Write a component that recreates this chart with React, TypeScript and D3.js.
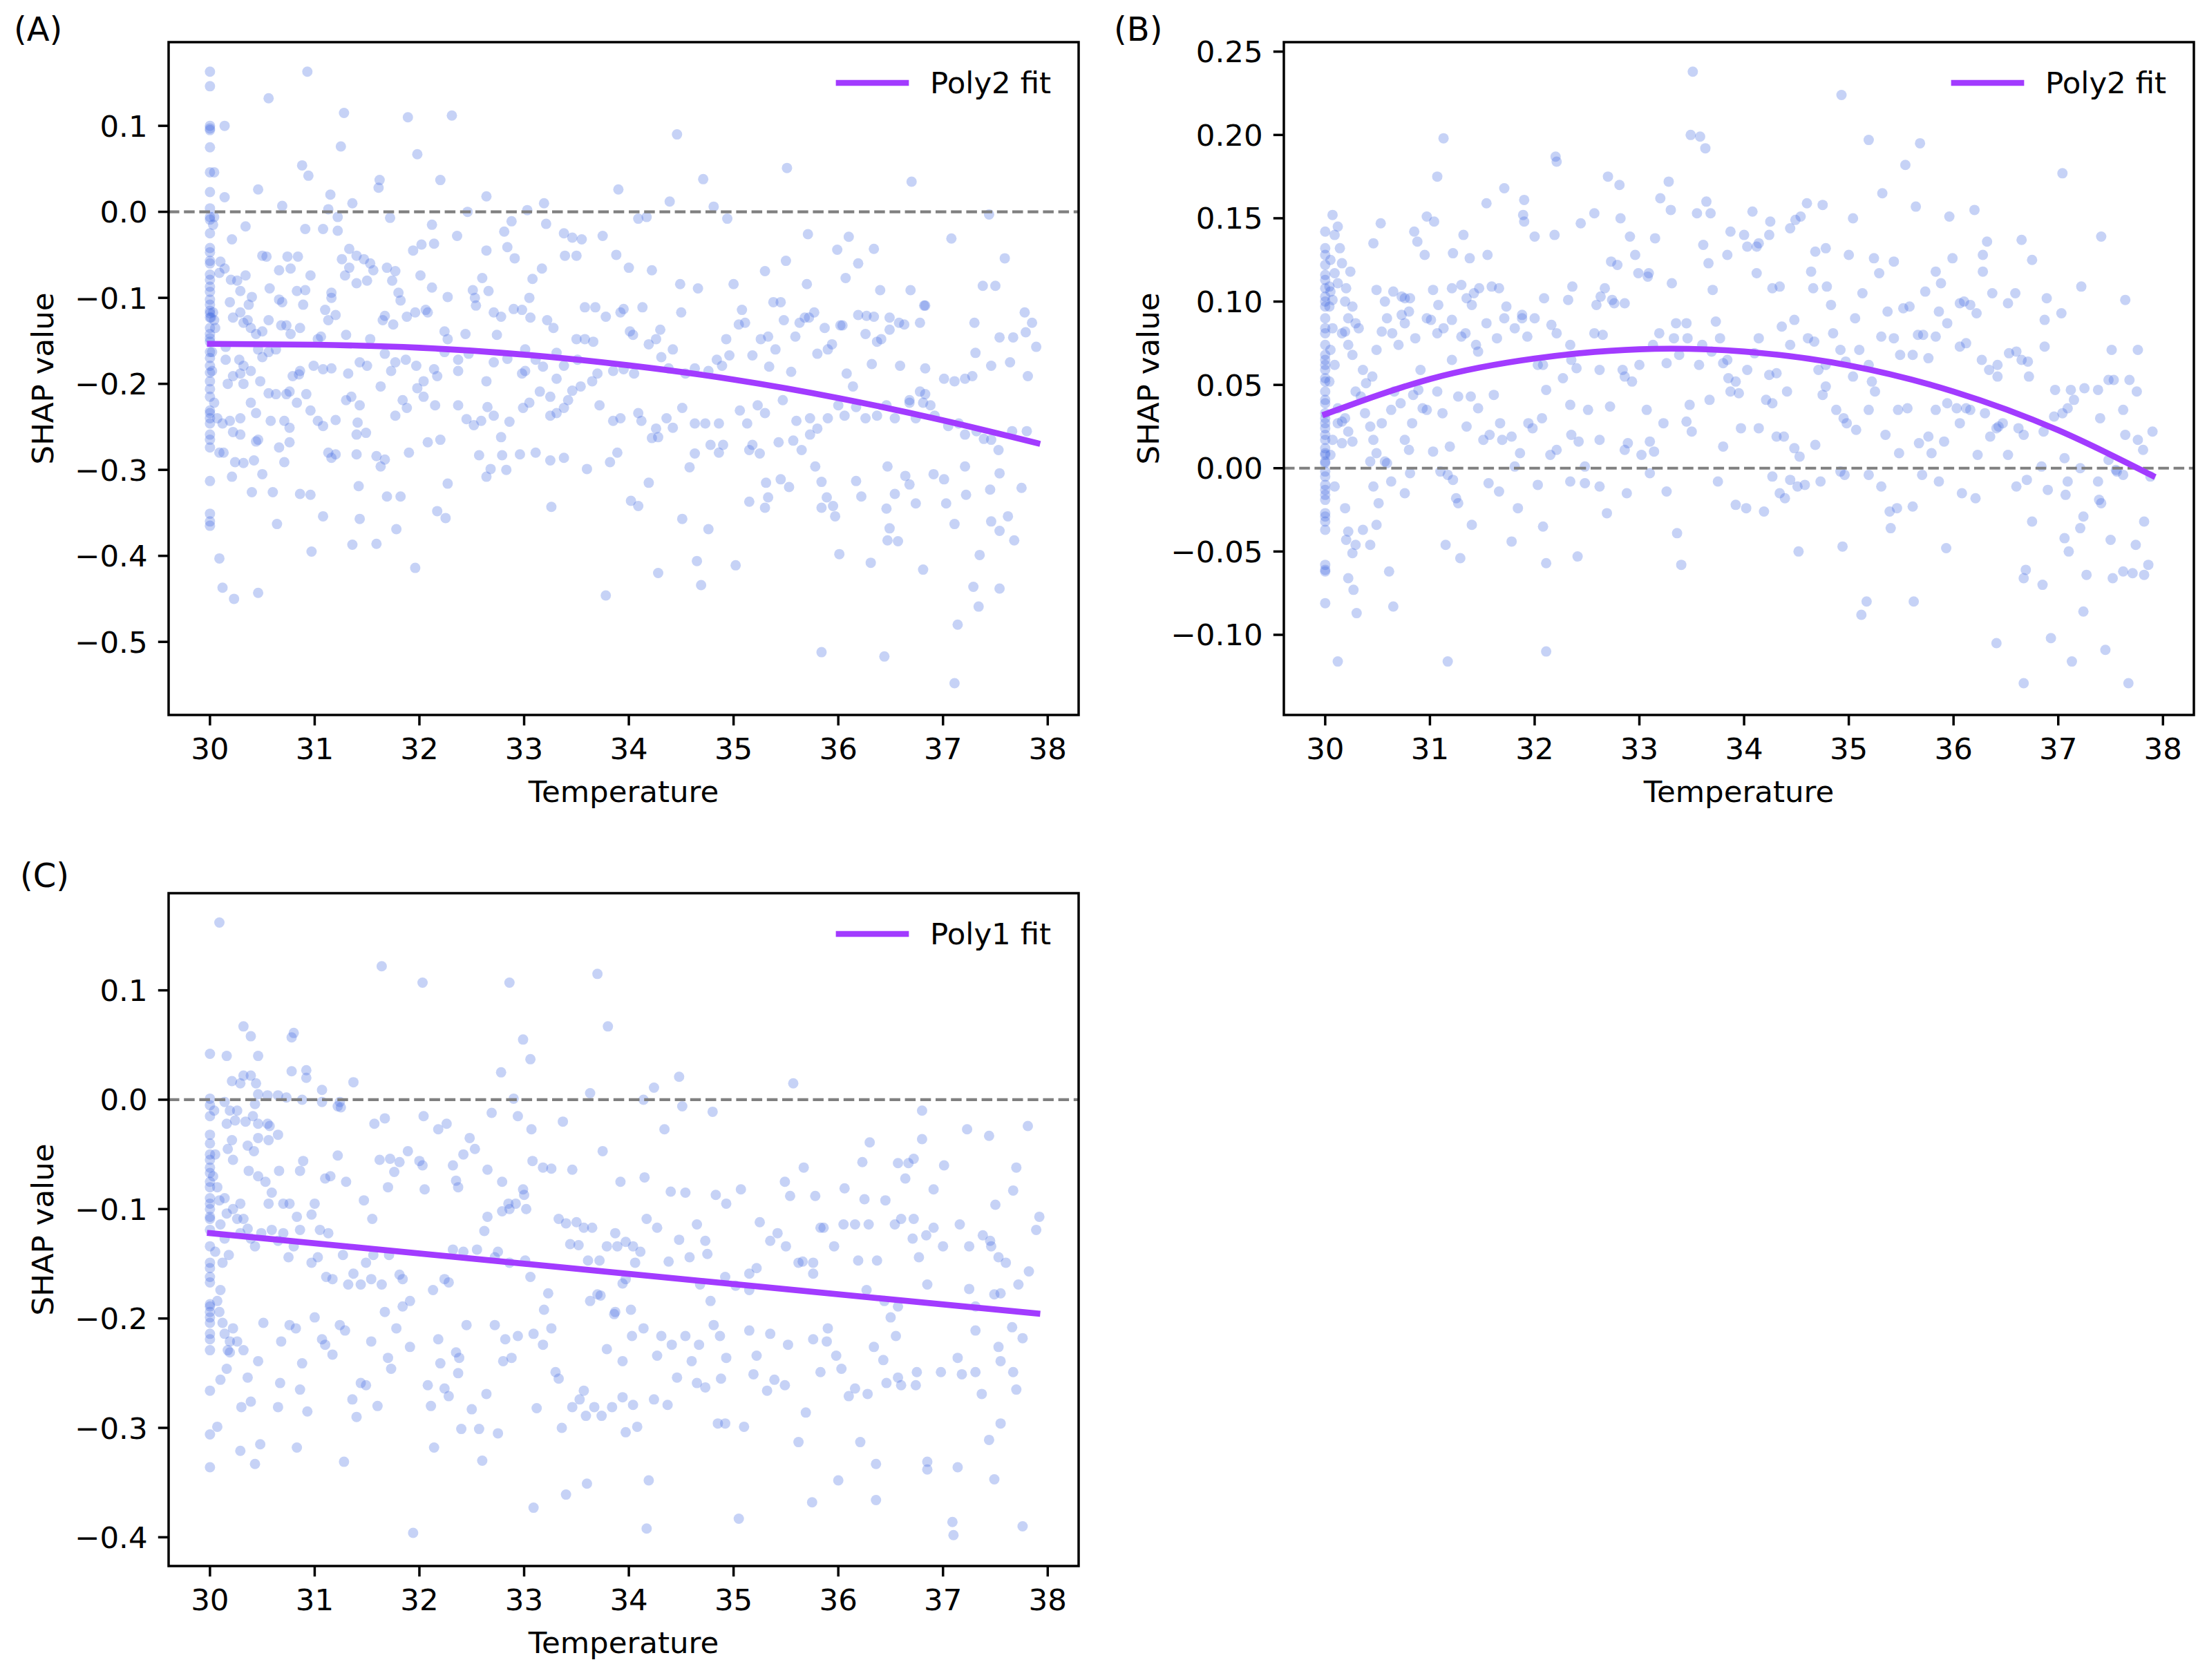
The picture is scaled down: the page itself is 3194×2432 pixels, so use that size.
import React from 'react';
import * as d3 from 'd3';

// ---------- tick / axis values ----------
const TEMP_TICKS = [30, 31, 32, 33, 34, 35, 36, 37, 38];
const X_LIM: [number, number] = [29.605, 38.295];
const A_TICKS = [0.1, 0.0, -0.1, -0.2, -0.3, -0.4, -0.5];
const B_TICKS = [0.25, 0.2, 0.15, 0.1, 0.05, 0.0, -0.05, -0.1];
const C_TICKS = [0.1, 0.0, -0.1, -0.2, -0.3, -0.4];
const A_YLIM: [number, number] = [-0.585, 0.1973];
const B_YLIM: [number, number] = [-0.1481, 0.2557];
const C_YLIM: [number, number] = [-0.4263, 0.1888];

// ---------- fitted curves (read at sample temperatures) ----------
const FIT_TEMPS = [30, 31, 32, 33, 34, 35, 36, 37, 37.9];
const A_FIT = [-0.1535, -0.1545, -0.158, -0.166, -0.1785, -0.195, -0.2165, -0.2425, -0.269];
const B_FIT = [0.0324, 0.0535, 0.0658, 0.0714, 0.07, 0.0617, 0.046, 0.0228, -0.0045];
const C_FIT_TEMPS = [30, 37.9];
const C_FIT = [-0.122, -0.1955];

// ---------- scatter: SHAP values at temperature 30 ----------
const A_AT30 = [0.163,0.146,0.1,0.097,0.095,0.075,0.046,0.023,0.004,-0.006,-0.009,-0.025,-0.042,-0.047,-0.057,-0.06,-0.073,-0.079,-0.087,-0.093,-0.102,-0.108,-0.115,-0.118,-0.123,-0.135,-0.142,-0.147,-0.151,-0.163,-0.17,-0.179,-0.187,-0.197,-0.206,-0.215,-0.231,-0.234,-0.24,-0.246,-0.259,-0.265,-0.274,-0.313,-0.351,-0.36,-0.365];
const B_AT30 = [0.142,0.132,0.128,0.122,0.116,0.113,0.108,0.103,0.1,0.097,0.09,0.084,0.081,0.074,0.068,0.065,0.062,0.059,0.054,0.052,0.046,0.041,0.039,0.033,0.03,0.027,0.024,0.02,0.017,0.012,0.009,0.008,0.004,0.003,-0.002,-0.005,-0.01,-0.013,-0.016,-0.019,-0.027,-0.029,-0.032,-0.037,-0.058,-0.061,-0.062,-0.081];
const C_AT30 = [0.042,0.001,-0.005,-0.015,-0.032,-0.04,-0.05,-0.055,-0.062,-0.067,-0.075,-0.08,-0.09,-0.095,-0.1,-0.107,-0.109,-0.119,-0.134,-0.149,-0.154,-0.162,-0.167,-0.187,-0.189,-0.194,-0.199,-0.204,-0.214,-0.219,-0.229,-0.266,-0.306,-0.336];

// ---------- scatter: [temperature, SHAP] ----------
const A_POINTS: [number, number][] = [
[30.93,0.163],[30.56,0.132],[31.28,0.115],[31.89,0.11],[32.31,0.112],[30.14,0.1],[31.25,0.076],[31.98,0.067],[34.46,0.09],[30.88,0.054],[30.94,0.042],[30.04,0.046],[31.62,0.037],[31.61,0.028],[32.2,0.037],[34.71,0.038],[35.51,0.051],[36.7,0.035],[30.46,0.026],[30.14,0.017],[31.15,0.02],[31.36,0.01],[30.69,0.007],[32.64,0.018],[33.9,0.026],[33.19,0.01],[34.39,0.012],[34.81,0.006],[33.03,0.002],[32.46,0.0],[31.13,0.003],[34.09,-0.008],[34.17,-0.006],[34.94,-0.008],[37.44,-0.003],[31.72,-0.007],[31.22,-0.006],
[30.04,-0.006],[30.03,-0.015],[30.21,-0.032],[30.34,-0.017],[30.91,-0.02],[31.08,-0.02],[31.22,-0.022],[32.12,-0.015],[32.88,-0.011],[32.81,-0.023],[33.21,-0.014],[32.02,-0.038],[32.14,-0.037],[32.36,-0.028],[31.94,-0.045],[32.64,-0.045],[32.84,-0.041],[32.91,-0.054],[33.38,-0.025],[33.46,-0.03],[33.55,-0.032],[33.75,-0.028],[33.88,-0.05],[33.39,-0.051],[33.5,-0.051],[34.0,-0.065],[34.22,-0.068],[35.71,-0.026],[36.1,-0.029],[35.99,-0.044],[36.34,-0.043],[36.19,-0.06],[36.07,-0.077],[35.5,-0.057],[37.08,-0.031],[37.59,-0.054],[37.38,-0.086],[30.5,-0.051],[30.54,-0.052],[30.74,-0.052],[30.84,-0.052],[30.1,-0.058],[30.14,-0.066],[30.09,-0.071],[31.26,-0.055],[31.33,-0.043],[31.4,-0.051],[31.47,-0.055],[31.53,-0.06],[31.56,-0.068],[31.33,-0.065],[31.29,-0.074],[31.4,-0.083],[31.5,-0.08],[31.69,-0.065],[31.77,-0.069],[31.74,-0.08],[30.66,-0.068],[30.77,-0.066],[30.96,-0.074],[30.2,-0.079],[30.26,-0.08],[30.34,-0.074],[30.57,-0.089],[30.29,-0.092],[35.3,-0.069],[35.0,-0.084],[34.49,-0.084],[34.66,-0.089],[35.7,-0.084],[36.4,-0.091],[36.69,-0.091],[36.82,-0.109],[37.5,-0.086],[33.05,-0.1],[33.17,-0.066],[33.08,-0.078],[32.6,-0.077],[32.51,-0.091],[32.66,-0.092],[32.12,-0.088],[32.27,-0.099],[32.53,-0.1],[32.01,-0.074],[31.16,-0.094],[31.16,-0.1],[31.8,-0.094],[31.82,-0.103],[30.91,-0.091],[30.83,-0.092],[30.4,-0.099],[30.66,-0.102],[30.69,-0.105],
[30.01,-0.123],[30.03,-0.117],[30.04,-0.126],[30.05,-0.135],[30.02,-0.163],[30.02,-0.185],[30.22,-0.123],[30.19,-0.105],[30.29,-0.117],[30.37,-0.108],[30.36,-0.126],[30.32,-0.129],[30.39,-0.135],[30.44,-0.142],[30.5,-0.139],[30.56,-0.126],[30.68,-0.132],[30.73,-0.132],[30.77,-0.142],[30.86,-0.135],[30.89,-0.108],[31.03,-0.148],[31.06,-0.145],[31.13,-0.126],[31.2,-0.12],[31.1,-0.114],[31.3,-0.143],[31.53,-0.148],[31.67,-0.121],[31.65,-0.126],[31.75,-0.131],[31.88,-0.122],[31.96,-0.117],[32.06,-0.114],[32.08,-0.117],[32.27,-0.148],[32.24,-0.139],[32.44,-0.142],[32.54,-0.109],[32.71,-0.117],[32.78,-0.122],[32.74,-0.143],[32.9,-0.113],[32.98,-0.114],[33.06,-0.123],[33.22,-0.126],[33.28,-0.135],[33.58,-0.111],[33.68,-0.111],[33.58,-0.148],[33.5,-0.148],[33.66,-0.151],[33.78,-0.122],[33.92,-0.117],[33.95,-0.113],[34.01,-0.139],[34.13,-0.111],[34.04,-0.143],[34.19,-0.154],[34.26,-0.148],[34.3,-0.137],[34.42,-0.16],[34.5,-0.117],[34.93,-0.148],[35.05,-0.131],[35.08,-0.114],[35.11,-0.129],[35.18,-0.167],[35.26,-0.148],[35.33,-0.145],[35.38,-0.105],[35.48,-0.126],[35.59,-0.145],[35.63,-0.129],[35.68,-0.123],[35.4,-0.16],[35.94,-0.154],[35.9,-0.16],[36.04,-0.132],[36.19,-0.12],[36.27,-0.121],[36.34,-0.122],[36.37,-0.151],[36.49,-0.137],[36.78,-0.129],[36.83,-0.109],[37.3,-0.129],[37.31,-0.164],[37.54,-0.146],[37.67,-0.146],[37.78,-0.117],[37.85,-0.129],[37.89,-0.157],[37.79,-0.14],[37.64,-0.175],[37.46,-0.179],[36.59,-0.179],[36.83,-0.182],[36.32,-0.177],[36.08,-0.188],[36.14,-0.203],[35.8,-0.165],[35.55,-0.186],[35.34,-0.18],[34.84,-0.172],[34.89,-0.179],[34.96,-0.167],[34.76,-0.185],[34.63,-0.182],[34.54,-0.188],[34.38,-0.182],[34.31,-0.169],[33.85,-0.185],[33.95,-0.183],[34.05,-0.188],[33.7,-0.188],[33.65,-0.197],[33.31,-0.164],[33.38,-0.179],[33.51,-0.172],[33.18,-0.18],[33.31,-0.194],[33.11,-0.172],[33.01,-0.16],[33.01,-0.185],[32.98,-0.188],[32.84,-0.171],[32.71,-0.175],[32.64,-0.197],[32.47,-0.165],[32.37,-0.172],[32.37,-0.185],[32.24,-0.163],[32.14,-0.183],[32.17,-0.191],[32.04,-0.197],[31.97,-0.179],[31.87,-0.172],[31.77,-0.175],[31.67,-0.165],[31.73,-0.185],[31.5,-0.179],[31.43,-0.175],[31.32,-0.188],[31.16,-0.182],[31.08,-0.183],[30.99,-0.179],[30.86,-0.185],[30.79,-0.191],[30.85,-0.189],[30.63,-0.16],[30.56,-0.163],[30.5,-0.169],[30.46,-0.16],[30.32,-0.179],[30.29,-0.188],[30.39,-0.185],[30.28,-0.172],[30.15,-0.172],[30.15,-0.157],[30.22,-0.191],[30.17,-0.2],[30.32,-0.2],[30.48,-0.197],[30.56,-0.211],[30.63,-0.212],[30.73,-0.212],[30.76,-0.209],[37.28,-0.191],[37.21,-0.194],[37.11,-0.197],[37.01,-0.194],[36.83,-0.212],[36.68,-0.219],[36.78,-0.209],[37.81,-0.191],[35.45,-0.105],[35.72,-0.123],[35.77,-0.117],[35.87,-0.135],[36.02,-0.132],[36.26,-0.142],[36.49,-0.123],[36.41,-0.148],[36.58,-0.129],[36.63,-0.131],
[30.04,-0.222],[30.07,-0.24],[30.12,-0.246],[30.19,-0.243],[30.29,-0.24],[30.39,-0.222],[30.44,-0.234],[30.58,-0.243],[30.71,-0.243],[30.76,-0.251],[30.83,-0.222],[30.92,-0.212],[30.96,-0.231],[31.03,-0.243],[31.08,-0.249],[31.2,-0.242],[31.3,-0.219],[31.35,-0.215],[31.43,-0.225],[31.41,-0.245],[31.4,-0.259],[31.49,-0.257],[31.63,-0.203],[31.77,-0.237],[31.84,-0.219],[31.88,-0.228],[31.98,-0.205],[32.04,-0.215],[32.15,-0.225],[32.2,-0.265],[32.08,-0.268],[32.37,-0.225],[32.45,-0.241],[32.52,-0.248],[32.59,-0.243],[32.65,-0.227],[32.71,-0.237],[32.78,-0.262],[32.86,-0.244],[32.99,-0.228],[33.05,-0.222],[33.15,-0.209],[33.25,-0.215],[33.42,-0.219],[33.38,-0.228],[33.46,-0.208],[33.25,-0.237],[33.31,-0.234],[33.54,-0.203],[33.72,-0.225],[33.85,-0.243],[33.92,-0.24],[34.09,-0.234],[34.12,-0.243],[34.26,-0.252],[34.36,-0.24],[34.42,-0.251],[34.51,-0.228],[34.63,-0.246],[34.73,-0.246],[34.86,-0.246],[35.06,-0.231],[35.13,-0.246],[35.23,-0.225],[35.3,-0.234],[35.47,-0.219],[35.6,-0.243],[35.73,-0.24],[35.8,-0.252],[35.9,-0.24],[36.0,-0.225],[36.06,-0.237],[36.17,-0.227],[36.26,-0.24],[36.37,-0.237],[36.46,-0.225],[36.54,-0.24],[36.68,-0.222],[36.74,-0.24],[36.81,-0.222],[36.88,-0.225],[36.92,-0.237],[37.05,-0.249],[37.15,-0.246],[37.21,-0.259],[37.32,-0.255],[37.39,-0.264],[37.46,-0.265],[37.53,-0.277],[37.66,-0.255],[37.8,-0.255],[35.73,-0.259],[35.65,-0.277],[35.57,-0.266],[35.43,-0.268],[35.25,-0.281],[35.18,-0.271],[35.15,-0.277],[34.9,-0.271],[34.86,-0.28],[34.78,-0.271],[34.63,-0.281],[34.58,-0.297],[34.22,-0.263],[34.28,-0.262],[33.89,-0.28],[33.82,-0.291],[33.6,-0.299],[33.38,-0.286],[33.25,-0.289],[33.11,-0.28],[32.96,-0.282],[32.79,-0.283],[32.83,-0.3],[32.68,-0.299],[32.57,-0.283],[32.64,-0.308],[31.9,-0.28],[31.67,-0.288],[31.63,-0.296],[31.59,-0.284],[31.4,-0.282],[31.2,-0.282],[31.16,-0.286],[31.13,-0.28],[30.71,-0.291],[30.42,-0.289],[30.32,-0.292],[30.24,-0.291],[30.13,-0.28],[30.09,-0.28],[30.46,-0.265],[30.44,-0.267],[30.29,-0.259],[30.22,-0.256],[30.76,-0.268],[30.66,-0.274],
[30.21,-0.308],[30.5,-0.305],[30.4,-0.326],[30.6,-0.326],[30.64,-0.363],[30.86,-0.328],[30.96,-0.329],[31.08,-0.354],[31.42,-0.319],[31.43,-0.357],[31.36,-0.387],[31.59,-0.386],[31.69,-0.331],[31.82,-0.331],[31.78,-0.369],[31.96,-0.414],[30.97,-0.395],[30.09,-0.403],[30.12,-0.437],[30.23,-0.45],[30.46,-0.443],[32.17,-0.348],[32.25,-0.356],[32.27,-0.316],[33.26,-0.343],[34.02,-0.336],[34.09,-0.342],[34.19,-0.315],[34.28,-0.42],[34.51,-0.357],[34.65,-0.406],[34.69,-0.434],[34.76,-0.369],[35.02,-0.411],[33.78,-0.446],[35.15,-0.337],[35.3,-0.344],[35.33,-0.332],[35.31,-0.315],[35.45,-0.311],[35.53,-0.32],[35.78,-0.296],[35.84,-0.314],[35.84,-0.344],[35.89,-0.332],[35.95,-0.342],[35.97,-0.354],[36.01,-0.398],[35.84,-0.512],[36.17,-0.313],[36.22,-0.331],[36.31,-0.408],[36.47,-0.296],[36.46,-0.345],[36.49,-0.368],[36.47,-0.382],[36.57,-0.383],[36.54,-0.328],[36.64,-0.307],[36.68,-0.317],[36.74,-0.339],[36.81,-0.416],[36.44,-0.517],[36.91,-0.305],[37.01,-0.311],[37.03,-0.339],[37.11,-0.363],[37.22,-0.329],[37.21,-0.296],[37.11,-0.548],[37.14,-0.48],[37.29,-0.436],[37.34,-0.459],[37.35,-0.399],[37.46,-0.36],[37.45,-0.323],[37.54,-0.304],[37.54,-0.371],[37.62,-0.354],[37.54,-0.438],[37.68,-0.382],[37.75,-0.321],
];

const B_POINTS: [number, number][] = [
[30.07,0.152],[30.12,0.145],[30.09,0.14],[30.14,0.132],[30.05,0.125],[30.16,0.123],[30.24,0.118],[30.09,0.117],[30.04,0.109],[30.12,0.111],[30.05,0.106],[30.2,0.108],[30.07,0.101],[30.19,0.1],[30.04,0.097],[30.07,0.084],[30.16,0.081],[30.22,0.09],[30.05,0.071],[30.09,0.062],[30.04,0.052],[30.12,0.027],[30.16,0.028],[30.12,0.036],[30.07,0.017],[30.16,0.015],[30.05,0.008],[30.09,-0.011],[30.12,-0.116],[30.19,-0.024],[30.22,-0.038],[30.2,-0.043],[30.26,-0.051],[30.29,-0.046],[30.22,-0.066],[30.27,-0.073],[30.3,-0.087],[30.36,-0.037],[30.43,-0.046],[30.49,-0.034],[30.61,-0.062],[30.65,-0.083],
[31.13,0.198],[31.07,0.175],[30.97,0.151],[31.04,0.148],[30.85,0.142],[30.88,0.136],[30.46,0.135],[30.53,0.147],[30.95,0.128],[31.22,0.129],[31.32,0.14],[31.38,0.126],[31.55,0.128],[31.54,0.159],[31.71,0.168],[31.9,0.161],[31.89,0.152],[31.9,0.148],[32.0,0.139],[32.19,0.14],[32.2,0.187],[32.21,0.184],[32.44,0.147],[32.57,0.153],[32.7,0.175],[32.81,0.17],[32.82,0.15],[32.91,0.139],[32.96,0.128],[32.73,0.124],[32.79,0.122],[32.99,0.117],[33.08,0.115],[33.15,0.138],[33.2,0.162],[33.28,0.172],[33.3,0.155],[33.31,0.111],[33.51,0.238],[33.49,0.2],[33.58,0.199],[33.63,0.192],[33.55,0.153],[33.64,0.16],[33.68,0.153],[33.61,0.134],[33.66,0.123],[33.7,0.107],[33.87,0.142],[33.84,0.128],[34.0,0.14],[34.03,0.133],[34.08,0.154],[34.12,0.133],[34.14,0.135],[34.24,0.14],[34.25,0.148],[34.12,0.117],[34.27,0.108],[34.34,0.109],[34.44,0.144],[34.49,0.149],[34.54,0.151],[34.6,0.159],[34.75,0.158],[34.68,0.13],[34.78,0.132],[34.64,0.118],[34.66,0.108],[34.79,0.109],[34.83,0.098],[34.93,0.224],[35.04,0.15],[35.0,0.128],[35.13,0.105],[35.19,0.197],[35.24,0.126],[35.29,0.117],[35.32,0.165],[35.43,0.124],[35.54,0.182],[35.64,0.157],[35.68,0.195],[35.73,0.106],[35.83,0.118],[35.88,0.111],[35.96,0.151],[35.99,0.126],[36.2,0.155],[36.28,0.128],[36.28,0.118],[36.32,0.136],[36.65,0.137],[36.75,0.125],[37.04,0.177],[37.22,0.109],[37.41,0.139],[37.64,0.101],[36.37,0.105],[36.59,0.105],[36.52,0.099],[36.1,0.1],[36.16,0.098],[36.06,0.099],[36.89,0.102],[37.03,0.093],[36.87,0.089],[30.49,0.107],[30.65,0.106],[30.73,0.103],[30.76,0.102],[30.81,0.102],[30.57,0.1],[31.03,0.107],[31.08,0.098],[31.21,0.108],[31.3,0.11],[31.35,0.102],[31.42,0.105],[31.47,0.108],[31.59,0.109],[31.66,0.108],[31.73,0.097],[31.88,0.092],[32.09,0.102],[32.32,0.101],[32.36,0.109],[32.59,0.098],[32.63,0.103],[32.67,0.108],[32.76,0.099],[32.86,0.099],[33.09,0.117],
[30.26,0.097],[30.29,0.087],[30.32,0.084],[30.19,0.082],[30.22,0.074],[30.26,0.068],[30.36,0.059],[30.39,0.051],[30.45,0.055],[30.49,0.071],[30.54,0.082],[30.59,0.09],[30.64,0.081],[30.7,0.074],[30.76,0.087],[30.8,0.094],[30.73,0.092],[30.86,0.078],[30.91,0.059],[30.97,0.09],[31.01,0.089],[31.07,0.081],[31.13,0.084],[31.21,0.089],[31.21,0.065],[31.3,0.079],[31.34,0.081],[31.4,0.098],[31.44,0.074],[31.46,0.07],[31.54,0.087],[31.64,0.078],[31.71,0.09],[31.81,0.084],[31.88,0.09],[31.93,0.079],[32.0,0.09],[32.03,0.062],[32.08,0.062],[32.16,0.086],[32.21,0.081],[32.34,0.074],[32.35,0.065],[32.4,0.06],[32.57,0.081],[32.65,0.08],[32.62,0.059],[32.74,0.101],[32.84,0.059],[32.86,0.055],[32.93,0.052],[33.0,0.062],[33.13,0.074],[33.19,0.081],[33.26,0.063],[33.35,0.087],[33.45,0.087],[33.46,0.078],[33.33,0.078],[33.38,0.068],[33.57,0.062],[33.6,0.074],[33.69,0.07],[33.73,0.088],[33.77,0.078],[33.8,0.063],[33.84,0.065],[33.85,0.054],[33.92,0.052],[34.03,0.059],[34.1,0.069],[34.14,0.078],[34.24,0.056],[34.31,0.057],[34.36,0.085],[34.48,0.089],[34.44,0.074],[34.61,0.078],[34.67,0.076],[34.71,0.059],[34.78,0.062],[34.85,0.081],[34.92,0.071],[34.97,0.064],[35.04,0.055],[35.06,0.09],[35.1,0.071],[35.19,0.062],[35.22,0.052],[35.31,0.079],[35.37,0.094],[35.43,0.078],[35.49,0.068],[35.52,0.096],[35.58,0.097],[35.61,0.068],[35.66,0.08],[35.71,0.08],[35.76,0.066],[35.83,0.079],[35.86,0.094],[35.94,0.087],[36.06,0.073],[36.12,0.075],[36.22,0.093],[36.27,0.065],[36.34,0.059],[36.42,0.062],[36.42,0.055],[36.53,0.069],[36.6,0.07],[36.65,0.065],[36.71,0.064],[36.87,0.073],[36.72,0.055],[36.97,0.047],[37.12,0.047],[37.25,0.048],[37.38,0.047],[37.48,0.053],[37.53,0.053],[37.51,0.071],[37.76,0.071],[37.68,0.053],[37.75,0.046],
[30.19,0.03],[30.22,0.022],[30.26,0.016],[30.29,0.046],[30.34,0.043],[30.38,0.033],[30.43,0.025],[30.46,0.017],[30.49,0.009],[30.43,0.004],[30.54,0.027],[30.57,0.004],[30.59,0.003],[30.63,0.035],[30.66,0.046],[30.72,0.039],[30.76,0.017],[30.8,0.011],[30.83,0.027],[30.84,0.044],[30.89,0.047],[30.93,0.036],[30.97,0.035],[31.03,0.01],[31.07,0.046],[31.12,0.033],[31.19,0.013],[31.27,0.043],[31.35,0.025],[31.39,0.043],[31.46,0.036],[31.51,0.017],[31.57,0.02],[31.61,0.044],[31.67,0.027],[31.69,0.017],[31.78,0.019],[31.81,0.001],[31.86,0.009],[31.94,0.027],[31.98,0.024],[32.07,0.03],[32.11,0.047],[32.15,0.008],[32.21,0.011],[32.27,0.054],[32.34,0.038],[32.35,0.02],[32.42,0.016],[32.48,0.001],[32.51,0.035],[32.62,0.017],[32.72,0.037],[32.86,0.011],[32.89,0.015],[33.02,0.008],[33.07,0.035],[33.1,0.016],[33.14,0.01],[33.23,0.027],[33.45,0.028],[33.48,0.038],[33.5,0.022],[33.67,0.041],[33.8,0.013],[33.87,0.046],[33.95,0.045],[33.97,0.024],[34.14,0.024],[34.21,0.041],[34.27,0.039],[34.31,0.019],[34.38,0.019],[34.41,0.046],[34.48,0.012],[34.53,0.007],[34.68,0.014],[34.75,0.044],[34.78,0.049],[34.88,0.035],[34.95,0.03],[34.98,0.027],[35.07,0.023],[35.19,0.035],[35.25,0.046],[35.35,0.02],[35.47,0.035],[35.48,0.009],[35.56,0.036],[35.67,0.015],[35.76,0.019],[35.79,0.009],[35.83,0.035],[35.91,0.016],[35.94,0.039],[36.03,0.036],[36.06,0.027],[36.12,0.036],[36.16,0.035],[36.23,0.008],[36.3,0.033],[36.35,0.019],[36.41,0.024],[36.43,0.025],[36.47,0.027],[36.52,0.008],[36.62,0.024],[36.67,0.02],[36.86,0.022],[36.84,0.001],[36.96,0.031],[37.04,0.033],[37.06,0.006],[37.09,0.036],[37.15,0.041],[37.21,0.0],[37.4,0.03],[37.48,0.005],[37.56,-0.002],[37.62,0.035],[37.64,0.02],[37.76,0.017],[37.81,0.011],[37.9,0.022],
[30.46,-0.011],[30.51,-0.021],[30.63,-0.008],[30.76,-0.015],[30.81,-0.003],[31.1,-0.002],[31.17,-0.004],[31.22,-0.007],[31.25,-0.018],[31.27,-0.021],[31.15,-0.046],[31.29,-0.054],[31.4,-0.034],[31.17,-0.116],[31.56,-0.009],[31.66,-0.014],[31.78,-0.044],[31.84,-0.024],[32.03,-0.01],[32.08,-0.035],[32.11,-0.057],[32.11,-0.11],[32.34,-0.008],[32.41,-0.053],[32.48,-0.009],[32.62,-0.011],[32.69,-0.027],[32.88,-0.015],[33.1,-0.003],[33.26,-0.014],[33.36,-0.039],[33.4,-0.058],[33.75,-0.008],[33.92,-0.022],[34.02,-0.024],[34.19,-0.026],[34.27,-0.005],[34.34,-0.015],[34.39,-0.018],[34.44,-0.007],[34.51,-0.011],[34.58,-0.01],[34.73,-0.008],[34.92,-0.002],[34.96,-0.004],[34.94,-0.047],[34.52,-0.05],[35.17,-0.08],[35.12,-0.088],[35.19,-0.004],[35.31,-0.011],[35.39,-0.026],[35.4,-0.036],[35.46,-0.024],[35.61,-0.023],[35.62,-0.08],[35.7,-0.004],[35.86,-0.008],[35.93,-0.048],[36.08,-0.015],[36.21,-0.018],[36.41,-0.105],[36.6,-0.011],[36.69,-0.061],[36.67,-0.066],[36.7,-0.007],[36.75,-0.032],[36.85,-0.07],[36.9,-0.013],[36.93,-0.102],[36.67,-0.129],[37.06,-0.042],[37.09,-0.008],[37.07,-0.016],[37.1,-0.05],[37.13,-0.116],[37.21,-0.036],[37.24,-0.029],[37.24,-0.086],[37.27,-0.064],[37.38,-0.008],[37.39,-0.019],[37.41,-0.021],[37.45,-0.109],[37.5,-0.043],[37.52,-0.066],[37.62,-0.062],[37.67,-0.129],[37.71,-0.063],[37.74,-0.046],[37.82,-0.032],[37.82,-0.064],[37.86,-0.058],[37.55,-0.001],[37.62,-0.004],[37.88,-0.005],
];

const C_POINTS: [number, number][] = [
[30.09,0.162],[30.04,-0.01],[30.05,-0.05],[30.03,-0.07],[30.09,-0.092],[30.1,-0.114],[30.14,-0.002],[30.16,-0.022],[30.19,-0.01],[30.17,-0.045],[30.21,-0.037],[30.22,-0.055],[30.07,-0.08],[30.14,-0.09],[30.16,-0.104],[30.05,-0.139],[30.12,-0.149],[30.1,-0.174],[30.07,-0.184],[30.14,-0.214],[30.17,-0.229],[30.07,-0.299],[30.16,0.04],[30.21,0.017],[30.26,-0.01],[30.24,-0.019],[30.14,-0.127],[30.18,-0.142],[30.09,-0.194],[30.12,-0.204],[30.19,-0.221],[30.16,-0.246],[30.1,-0.256],[30.19,-0.231],
[30.32,0.067],[30.39,0.058],[30.46,0.04],[30.78,0.057],[30.8,0.061],[30.78,0.026],[30.92,0.027],[30.92,0.02],[31.07,0.009],[31.37,0.016],[31.64,0.122],[32.03,0.107],[32.86,0.107],[32.78,0.025],[32.99,0.055],[33.06,0.037],[33.7,0.115],[33.8,0.067],[33.63,0.006],[34.14,0.0],[34.24,0.011],[34.48,0.021],[35.57,0.015],[32.9,0.001],[31.24,-0.002],[31.07,-0.002],[30.46,0.005],[30.55,0.004],[30.65,0.004],[30.73,0.002],[30.39,0.022],[30.44,0.015],[30.32,0.022],[30.29,0.015],[30.43,-0.004],[30.88,0.0],
[30.34,-0.02],[30.41,-0.015],[30.46,-0.022],[30.55,-0.022],[30.57,-0.024],[30.46,-0.035],[30.56,-0.037],[30.65,-0.032],[30.36,-0.042],[30.42,-0.047],[30.37,-0.065],[30.46,-0.07],[30.53,-0.075],[30.59,-0.085],[30.66,-0.065],[30.7,-0.095],[30.76,-0.095],[30.86,-0.065],[30.89,-0.056],[31.0,-0.095],[31.1,-0.072],[31.15,-0.07],[31.22,-0.051],[31.3,-0.075],[31.22,-0.006],[31.25,-0.007],[31.47,-0.092],[31.55,-0.109],[31.57,-0.022],[31.67,-0.017],[31.62,-0.055],[31.72,-0.054],[31.76,-0.066],[31.7,-0.08],[31.81,-0.057],[31.89,-0.047],[32.0,-0.056],[32.03,-0.06],[32.04,-0.015],[32.18,-0.027],[32.26,-0.022],[32.05,-0.082],[32.32,-0.06],[32.35,-0.074],[32.37,-0.08],[32.42,-0.05],[32.48,-0.035],[32.53,-0.045],[32.65,-0.064],[32.69,-0.012],[32.79,-0.075],[32.94,-0.015],[33.07,-0.027],[33.08,-0.056],[33.18,-0.062],[33.26,-0.063],[33.46,-0.064],[32.99,-0.082],[32.85,-0.095],[33.0,-0.087],[33.37,-0.02],[33.75,-0.047],[33.92,-0.075],[34.15,-0.071],[34.34,-0.027],[34.51,-0.006],[34.8,-0.011],[34.4,-0.084],[34.54,-0.085],[34.83,-0.087],[35.07,-0.082],[34.93,-0.095],[35.49,-0.075],[35.54,-0.088],[35.67,-0.062],[35.78,-0.088],[36.06,-0.081],[36.23,-0.057],[36.3,-0.039],[36.45,-0.092],[36.57,-0.058],[36.64,-0.072],[36.67,-0.058],[36.72,-0.054],[36.8,-0.01],[36.8,-0.036],[36.91,-0.082],[37.01,-0.06],[37.23,-0.027],[37.44,-0.033],[37.5,-0.096],[37.7,-0.062],[37.67,-0.083],[37.81,-0.024],[36.25,-0.091],
[30.22,-0.1],[30.29,-0.095],[30.26,-0.109],[30.32,-0.109],[30.36,-0.118],[30.29,-0.122],[30.39,-0.127],[30.43,-0.134],[30.49,-0.122],[30.56,-0.095],[30.59,-0.119],[30.65,-0.129],[30.7,-0.122],[30.75,-0.144],[30.8,-0.134],[30.83,-0.107],[30.86,-0.119],[30.97,-0.105],[31.05,-0.119],[31.13,-0.122],[30.97,-0.149],[31.03,-0.144],[31.11,-0.162],[31.17,-0.164],[31.27,-0.142],[31.32,-0.169],[31.37,-0.159],[31.44,-0.169],[31.49,-0.149],[31.56,-0.142],[31.54,-0.164],[31.64,-0.169],[31.71,-0.142],[31.81,-0.16],[31.84,-0.164],[31.67,-0.194],[31.84,-0.189],[31.91,-0.184],[32.13,-0.174],[32.24,-0.164],[32.28,-0.167],[32.32,-0.137],[32.42,-0.139],[32.55,-0.137],[32.62,-0.12],[32.65,-0.107],[32.79,-0.102],[32.86,-0.1],[32.92,-0.095],[33.02,-0.1],[32.72,-0.144],[32.75,-0.139],[32.86,-0.149],[33.01,-0.147],[33.06,-0.162],[33.23,-0.177],[33.19,-0.192],[33.33,-0.109],[33.4,-0.113],[33.5,-0.112],[33.57,-0.117],[33.65,-0.117],[33.44,-0.132],[33.52,-0.133],[33.61,-0.147],[33.72,-0.147],[33.73,-0.179],[33.63,-0.184],[33.7,-0.178],[33.79,-0.134],[33.87,-0.122],[33.89,-0.134],[33.97,-0.13],[34.04,-0.134],[34.06,-0.149],[34.11,-0.139],[33.97,-0.164],[33.94,-0.168],[33.86,-0.196],[33.87,-0.194],[34.02,-0.192],[34.17,-0.109],[34.27,-0.117],[34.38,-0.148],[34.48,-0.128],[34.58,-0.144],[34.65,-0.114],[34.73,-0.129],[34.75,-0.141],[34.78,-0.184],[34.68,-0.169],[34.92,-0.162],[35.02,-0.17],[35.15,-0.174],[35.15,-0.159],[35.22,-0.154],[35.25,-0.112],[35.35,-0.129],[35.42,-0.122],[35.5,-0.134],[35.62,-0.149],[35.66,-0.148],[35.76,-0.149],[35.76,-0.159],[35.83,-0.117],[35.86,-0.117],[35.96,-0.134],[36.05,-0.114],[36.16,-0.114],[36.29,-0.114],[36.19,-0.147],[36.37,-0.147],[36.27,-0.174],[36.44,-0.184],[36.5,-0.199],[36.57,-0.189],[36.54,-0.114],[36.6,-0.109],[36.71,-0.127],[36.72,-0.109],[36.77,-0.144],[36.84,-0.124],[36.91,-0.117],[36.85,-0.169],[37.0,-0.134],[37.16,-0.114],[37.25,-0.134],[37.25,-0.173],[37.31,-0.189],[37.38,-0.124],[37.45,-0.129],[37.46,-0.134],[37.53,-0.144],[37.6,-0.149],[37.49,-0.178],[37.55,-0.177],[37.72,-0.169],[37.82,-0.157],[37.89,-0.119],[37.92,-0.107],[37.66,-0.208],[37.76,-0.218],
[30.22,-0.209],[30.26,-0.221],[30.32,-0.229],[30.36,-0.254],[30.39,-0.276],[30.46,-0.239],[30.3,-0.281],[30.29,-0.321],[30.43,-0.333],[30.48,-0.315],[30.51,-0.204],[30.65,-0.281],[30.67,-0.259],[30.68,-0.221],[30.76,-0.206],[30.82,-0.209],[30.83,-0.318],[30.86,-0.265],[30.88,-0.241],[30.93,-0.285],[31.0,-0.199],[31.07,-0.219],[31.1,-0.224],[31.17,-0.233],[31.24,-0.206],[31.29,-0.211],[31.28,-0.331],[31.36,-0.274],[31.4,-0.29],[31.44,-0.259],[31.49,-0.261],[31.54,-0.221],[31.6,-0.28],[31.7,-0.236],[31.73,-0.246],[31.78,-0.209],[31.91,-0.226],[31.94,-0.396],[32.08,-0.261],[32.11,-0.28],[32.14,-0.318],[32.18,-0.219],[32.2,-0.241],[32.24,-0.264],[32.28,-0.271],[32.35,-0.231],[32.38,-0.236],[32.37,-0.25],[32.4,-0.301],[32.45,-0.206],[32.5,-0.283],[32.57,-0.301],[32.6,-0.33],[32.64,-0.269],[32.72,-0.206],[32.75,-0.305],[32.82,-0.219],[32.8,-0.239],[32.88,-0.236],[32.94,-0.216],[33.09,-0.214],[33.09,-0.373],[33.12,-0.282],[33.18,-0.224],[33.26,-0.209],[33.3,-0.249],[33.33,-0.255],[33.36,-0.3],[33.4,-0.361],[33.46,-0.281],[33.53,-0.274],[33.57,-0.266],[33.59,-0.289],[33.6,-0.351],[33.67,-0.281],[33.74,-0.289],[33.79,-0.228],[33.84,-0.281],[33.94,-0.239],[33.94,-0.272],[33.97,-0.304],[34.03,-0.216],[34.04,-0.279],[34.08,-0.299],[34.14,-0.209],[34.19,-0.348],[34.17,-0.392],[34.24,-0.274],[34.27,-0.234],[34.31,-0.216],[34.37,-0.279],[34.41,-0.224],[34.46,-0.254],[34.54,-0.216],[34.6,-0.239],[34.67,-0.224],[34.65,-0.259],[34.73,-0.263],[34.81,-0.206],[34.87,-0.216],[34.88,-0.255],[34.93,-0.236],[34.85,-0.296],[34.92,-0.296],[35.05,-0.383],[35.1,-0.299],[35.15,-0.211],[35.19,-0.251],[35.22,-0.234],[35.32,-0.266],[35.35,-0.214],[35.39,-0.256],[35.49,-0.261],[35.52,-0.224],[35.62,-0.313],[35.69,-0.286],[35.75,-0.368],[35.76,-0.219],[35.83,-0.249],[35.89,-0.221],[35.9,-0.209],[35.98,-0.234],[36.03,-0.246],[36.0,-0.348],[36.1,-0.271],[36.16,-0.264],[36.21,-0.313],[36.28,-0.269],[36.34,-0.226],[36.36,-0.333],[36.36,-0.366],[36.43,-0.238],[36.46,-0.259],[36.55,-0.216],[36.57,-0.254],[36.6,-0.261],[36.74,-0.261],[36.75,-0.249],[36.85,-0.331],[36.85,-0.338],[36.98,-0.249],[37.09,-0.386],[37.1,-0.398],[37.14,-0.236],[37.14,-0.336],[37.18,-0.251],[37.31,-0.249],[37.31,-0.211],[37.37,-0.269],[37.44,-0.311],[37.49,-0.347],[37.53,-0.226],[37.55,-0.296],[37.55,-0.239],[37.67,-0.249],[37.7,-0.265],[37.76,-0.39],
];

// ---------- drawing ----------
const FONT = "'DejaVu Sans', 'Liberation Sans', sans-serif";
const FS = 43.5;
const PW = 1317;
const PH = 974;
const DOT = '#4169e1';
const FIT = '#a23bff';

type PanelProps = {
  left: number; top: number; tag: string; tagX: number; tagY: number; yLabelX: number;
  at30: number[]; pts: [number, number][]; yTicks: number[]; yLim: [number, number];
  digits: number; fitT: number[]; fitV: number[]; legend: string;
};

function Panel(p: PanelProps) {
  const x = d3.scaleLinear().domain(X_LIM).range([p.left, p.left + PW]);
  const y = d3.scaleLinear().domain(p.yLim).range([p.top + PH, p.top]);
  const fmt = d3.format(`.${p.digits}f`);
  const all: [number, number][] = [...p.at30.map((v) => [30, v] as [number, number]), ...p.pts];
  const pairs = p.fitT.map((t, i) => [t, p.fitV[i]] as [number, number]);
  const lineGen = d3.line<[number, number]>()
    .x((d) => x(d[0]))
    .y((d) => y(d[1]))
    .curve(pairs.length > 2 ? d3.curveNatural : d3.curveLinear);
  const right = p.left + PW;
  const bottom = p.top + PH;
  const TL = 15.2;
  const SW = 3.5;
  return (
    <g>
      <text x={p.tagX} y={p.tagY} fontSize={48} fontFamily={FONT}>{p.tag}</text>
      {all.map((d, i) => (
        <circle key={i} cx={x(d[0])} cy={y(d[1])} r={7.5} fill={DOT} fillOpacity={0.3} />
      ))}
      <line x1={p.left} x2={right} y1={y(0)} y2={y(0)} stroke="#808080" strokeWidth={4.2} strokeDasharray="15.5 6.7" />
      <path d={lineGen(pairs) || ''} fill="none" stroke={FIT} strokeWidth={8.7} strokeLinecap="square" strokeLinejoin="round" />
      <line x1={right - 347} x2={right - 250} y1={p.top + 59} y2={p.top + 59} stroke={FIT} strokeWidth={8.7} strokeLinecap="square" />
      <text x={right - 215} y={p.top + 74} fontSize={FS} fontFamily={FONT}>{p.legend}</text>
      <rect x={p.left} y={p.top} width={PW} height={PH} fill="none" stroke="#000" strokeWidth={SW} />
      {TEMP_TICKS.map((t) => (
        <g key={`x${t}`}>
          <line x1={x(t)} x2={x(t)} y1={bottom} y2={bottom + TL} stroke="#000" strokeWidth={SW} />
          <text x={x(t)} y={bottom + 63.5} fontSize={FS} fontFamily={FONT} textAnchor="middle">{String(t)}</text>
        </g>
      ))}
      {p.yTicks.map((t) => (
        <g key={`y${t}`}>
          <line x1={p.left - TL} x2={p.left} y1={y(t)} y2={y(t)} stroke="#000" strokeWidth={SW} />
          <text x={p.left - 30.4} y={y(t) + 15.5} fontSize={FS} fontFamily={FONT} textAnchor="end">{fmt(t)}</text>
        </g>
      ))}
      <text x={(p.left + right) / 2} y={bottom + 126} fontSize={FS} fontFamily={FONT} textAnchor="middle">Temperature</text>
      <text transform={`translate(${p.yLabelX},${(p.top + bottom) / 2}) rotate(-90)`} fontSize={FS} fontFamily={FONT} textAnchor="middle">SHAP value</text>
    </g>
  );
}

export default function App() {
  return (
    <svg width={3194} height={2432} viewBox="0 0 3194 2432"
      style={{ position: 'absolute', left: 0, top: 0, background: '#fff', display: 'block' }}>
      <rect x={0} y={0} width={3194} height={2432} fill="#fff" />
      <Panel left={244} top={61} tag="(A)" tagX={20} tagY={59} yLabelX={77}
        at30={A_AT30} pts={A_POINTS} yTicks={A_TICKS} yLim={A_YLIM} digits={1}
        fitT={FIT_TEMPS} fitV={A_FIT} legend="Poly2 fit" />
      <Panel left={1858} top={61} tag="(B)" tagX={1612} tagY={59} yLabelX={1677}
        at30={B_AT30} pts={B_POINTS} yTicks={B_TICKS} yLim={B_YLIM} digits={2}
        fitT={FIT_TEMPS} fitV={B_FIT} legend="Poly2 fit" />
      <Panel left={244} top={1293} tag="(C)" tagX={29} tagY={1284} yLabelX={77}
        at30={C_AT30} pts={C_POINTS} yTicks={C_TICKS} yLim={C_YLIM} digits={1}
        fitT={C_FIT_TEMPS} fitV={C_FIT} legend="Poly1 fit" />
    </svg>
  );
}
